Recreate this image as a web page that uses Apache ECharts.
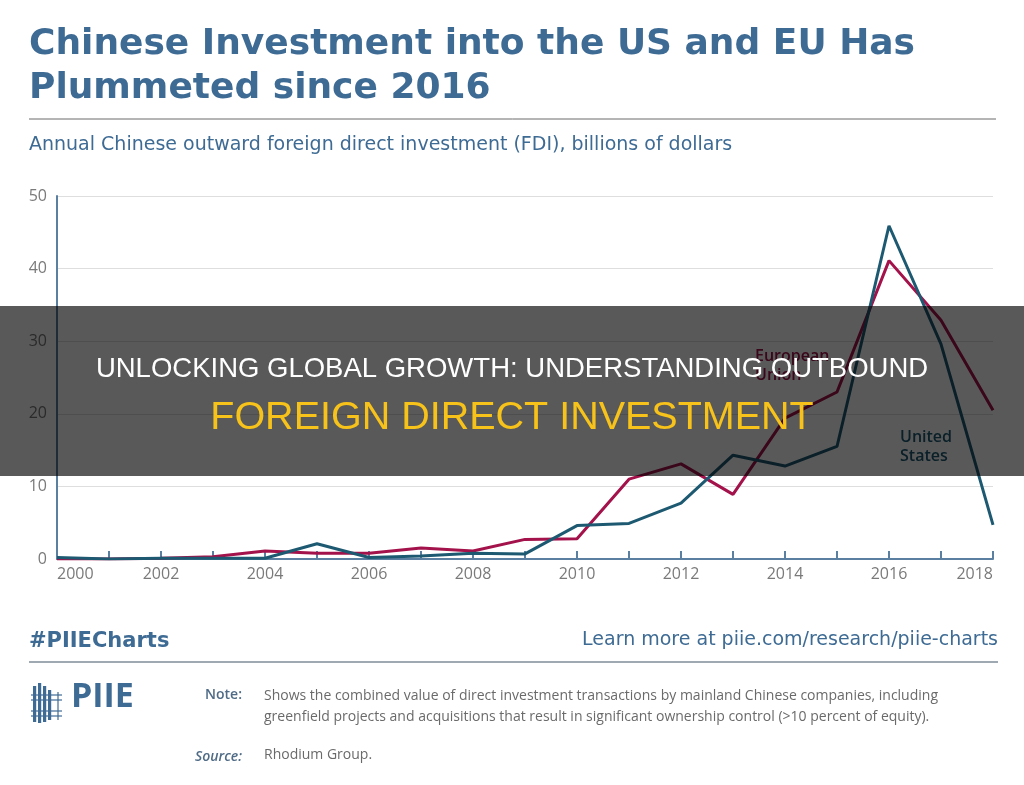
<!DOCTYPE html>
<html><head><meta charset="utf-8">
<script src="https://cdn.jsdelivr.net/npm/echarts@6/dist/echarts.min.js"></script>
<style>html,body{margin:0;padding:0;background:#fff}#c{width:1024px;height:785px}</style>
</head><body><div id="c"></div>
<script>
const years = ['2000','2001','2002','2003','2004','2005','2006','2007','2008','2009','2010','2011','2012','2013','2014','2015','2016','2017','2018'];
const usValues = [0.2,0.0,0.1,0.1,0.1,2.1,0.2,0.4,0.8,0.7,4.6,4.9,7.7,14.3,12.8,15.5,45.9,29.6,4.7];
const euValues = [0.0,0.0,0.1,0.3,1.1,0.8,0.8,1.5,1.1,2.7,2.8,11.0,13.1,8.9,19.4,23.0,41.1,32.9,20.5];
const yTicks = [0,10,20,30,40,50];

const blue = '#3e6b94';
const usColor = '#1d5a72';
const euColor = '#a3124a';
const axisColor = '#5a7fa0';
const F = "'Open Sans', sans-serif";

const chart = echarts.init(document.getElementById('c'), null, {renderer:'canvas'});

const logo = [];
[[33,686,36],[38,683,40],[43,686,36],[48,690,30]].forEach(b=>{
  logo.push({type:'rect', shape:{x:b[0], y:b[1], width:3.2, height:b[2]}, style:{fill:blue}});
});
[695,700,711,716].forEach(yy=>{
  logo.push({type:'line', shape:{x1:31, y1:yy, x2:62, y2:yy}, style:{stroke:blue, lineWidth:1.2}});
});
logo.push({type:'line', shape:{x1:58, y1:692, x2:58, y2:720}, style:{stroke:blue, lineWidth:1.2}});

chart.setOption({
  animation:false,
  grid:{left:57, right:31, top:196, bottom:226, containLabel:false},
  xAxis:{
    type:'category', data:years, boundaryGap:false,
    axisLine:{lineStyle:{color:axisColor, width:2}},
    axisTick:{inside:true, length:8, interval:0, alignWithLabel:true, lineStyle:{color:axisColor, width:2}},
    axisLabel:{interval:1, color:'#7a7a7a', fontFamily:F, fontSize:16, margin:7, alignMinLabel:'left', alignMaxLabel:'right'},
    splitLine:{show:false}
  },
  yAxis:{
    type:'value', min:yTicks[0], max:yTicks[yTicks.length-1], interval:10,
    axisLine:{show:true, lineStyle:{color:axisColor, width:2}},
    axisTick:{show:false},
    axisLabel:{color:'#7a7a7a', fontFamily:F, fontSize:16, margin:10},
    splitLine:{lineStyle:{color:'#dedede', width:1}}
  },
  series:[
    {name:'European Union', type:'line', data:euValues, symbol:'none', lineStyle:{color:euColor, width:3}, z:3},
    {name:'United States', type:'line', data:usValues, symbol:'none', lineStyle:{color:usColor, width:3}, z:4}
  ],
  graphic:[
    {type:'text', left:29, top:23, style:{text:'Chinese Investment into the US and EU Has\nPlummeted since 2016', fill:blue, font:"bold 36px 'DejaVu Sans', sans-serif", lineHeight:44}},
    {type:'line', shape:{x1:29, y1:119, x2:996, y2:119}, style:{stroke:'#6b6b6b', lineWidth:1}},
    {type:'text', left:29, top:136, style:{text:'Annual Chinese outward foreign direct investment (FDI), billions of dollars', fill:blue, font:"19px 'DejaVu Sans', sans-serif"}},
    {type:'text', left:755, top:347, style:{text:'European\nUnion', fill:euColor, font:"600 16px 'Open Sans', sans-serif", lineHeight:19}, z:5},
    {type:'text', left:900, top:428, style:{text:'United\nStates', fill:usColor, font:"600 16px 'Open Sans', sans-serif", lineHeight:19}, z:5},
    {type:'rect', shape:{x:0, y:306, width:1024, height:170}, style:{fill:'rgba(0,0,0,0.65)'}, z:100},
    {type:'text', x:512, y:369, style:{text:'UNLOCKING GLOBAL GROWTH: UNDERSTANDING OUTBOUND', fill:'#ffffff', font:"27.5px 'Liberation Sans', sans-serif", textAlign:'center', textVerticalAlign:'middle'}, z:101},
    {type:'text', x:512, y:418, style:{text:'FOREIGN DIRECT INVESTMENT', fill:'#f7c21a', font:"39.5px 'Liberation Sans', sans-serif", textAlign:'center', textVerticalAlign:'middle'}, z:101},
    {type:'text', left:29, top:631, style:{text:'#PIIECharts', fill:blue, font:"bold 21px 'DejaVu Sans', sans-serif"}},
    {type:'text', right:26, top:631, style:{text:'Learn more at piie.com/research/piie-charts', fill:blue, font:"19px 'DejaVu Sans', sans-serif"}},
    {type:'line', shape:{x1:29, y1:662, x2:998, y2:662}, style:{stroke:'#7f8c99', lineWidth:1.5}},
    ...logo,
    {type:'text', left:71, top:680, style:{text:'PIIE', fill:blue, font:"bold 34px 'Open Sans', sans-serif"}},
    {type:'text', x:242, y:695, style:{text:'Note:', fill:'#4f6b86', font:"600 14px 'Open Sans', sans-serif", textAlign:'right', textVerticalAlign:'middle'}},
    {type:'text', left:264, top:686, style:{text:'Shows the combined value of direct investment transactions by mainland Chinese companies, including\ngreenfield projects and acquisitions that result in significant ownership control (>10 percent of equity).', fill:'#6a6a6a', font:"14px 'Open Sans', sans-serif", lineHeight:21}},
    {type:'text', x:242, y:757, style:{text:'Source:', fill:'#4f6b86', font:"italic 600 14px 'Open Sans', sans-serif", textAlign:'right', textVerticalAlign:'middle'}},
    {type:'text', left:264, top:748, style:{text:'Rhodium Group.', fill:'#6a6a6a', font:"14px 'Open Sans', sans-serif"}}
  ]
});
</script></body></html>
